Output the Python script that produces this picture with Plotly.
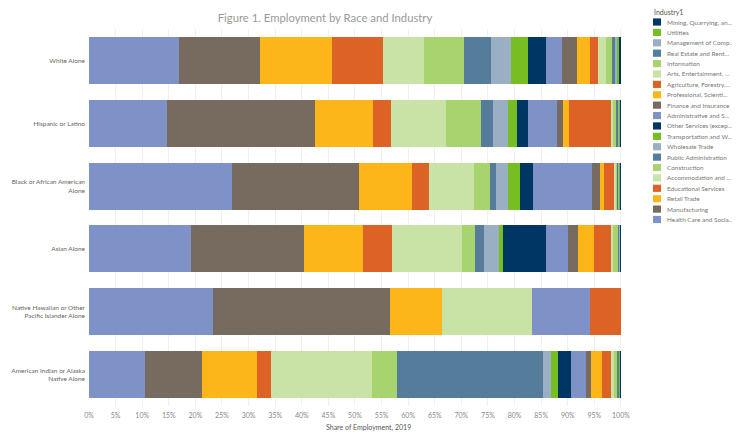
import plotly.graph_objects as go

# ---------------- data ----------------
races = [
    "White Alone",
    "Hispanic or Latino",
    "Black or African American<br>Alone",
    "Asian Alone",
    "Native Hawaiian or Other<br>Pacific Islander Alone",
    "American Indian or Alaska<br>Native Alone",
]

# stack order (left to right)
industries = [
    "Health Care and Social Assistance",
    "Manufacturing",
    "Retail Trade",
    "Educational Services",
    "Accommodation and Food Services",
    "Construction",
    "Public Administration",
    "Wholesale Trade",
    "Transportation and Warehousing",
    "Other Services (except Public Administration)",
    "Administrative and Support Services",
    "Finance and Insurance",
    "Professional, Scientific, and Technical Services",
    "Agriculture, Forestry, Fishing and Hunting",
    "Arts, Entertainment, and Recreation",
    "Information",
    "Real Estate and Rental and Leasing",
    "Management of Companies and Enterprises",
    "Utilities",
    "Mining, Quarrying, and Oil and Gas Extraction",
]

legend_labels = [
    "Health Care and Socia...",
    "Manufacturing",
    "Retail Trade",
    "Educational Services",
    "Accommodation and ...",
    "Construction",
    "Public Administration",
    "Wholesale Trade",
    "Transportation and W...",
    "Other Services (excep...",
    "Administrative and S...",
    "Finance and Insurance",
    "Professional, Scienti...",
    "Agriculture, Forestry,...",
    "Arts, Entertainment, ...",
    "Information",
    "Real Estate and Rent...",
    "Management of Comp...",
    "Utilities",
    "Mining, Quarrying, an...",
]

colors = [
    "#7f92c8", "#776b5f", "#fcb61a", "#dc6325", "#c9e3a7",
    "#a7d46f", "#567c9b", "#9aafc4", "#76be21", "#003663",
    "#7f92c8", "#776b5f", "#fcb61a", "#dc6325", "#c9e3a7",
    "#a7d46f", "#567c9b", "#9aafc4", "#76be21", "#003663",
]

# shares of employment (%), same order as industries
white = [17.0, 15.2, 13.4, 9.6, 7.8, 7.5, 5.0, 3.8, 3.3, 3.3,
         3.1, 2.7, 2.4, 1.6, 1.4, 1.2, 0.5, 0.5, 0.4, 0.3]
hispanic = [14.6, 27.9, 10.8, 3.5, 10.3, 6.6, 2.2, 2.8, 1.7, 2.2,
            5.3, 1.2, 1.2, 7.9, 0.4, 0.4, 0.5, 0.2, 0.15, 0.15]
black = [26.8, 24.0, 10.0, 3.2, 8.4, 3.0, 1.1, 2.3, 2.2, 2.4,
         11.2, 1.4, 0.9, 1.8, 0.3, 0.4, 0.2, 0.2, 0.1, 0.1]
asian = [19.1, 21.4, 11.1, 5.4, 13.1, 2.4, 1.7, 2.9, 0.8, 8.0,
         4.2, 1.9, 3.0, 3.1, 0.4, 1.0, 0.3, 0.1, 0.05, 0.05]
nhpi = [23.4, 33.1, 9.9, 0.0, 16.8, 0.0, 0.0, 0.0, 0.0, 0.0,
        11.0, 0.0, 0.0, 5.8, 0.0, 0.0, 0.0, 0.0, 0.0, 0.0]
aian = [10.6, 10.7, 10.3, 2.6, 19.0, 4.7, 27.4, 1.5, 1.4, 2.5,
        2.8, 0.9, 2.0, 1.8, 0.5, 0.7, 0.3, 0.1, 0.1, 0.1]

shares = [white, hispanic, black, asian, nhpi, aian]

x_ticks = list(range(0, 101, 5))
x_tick_text = [f"{v}%" for v in x_ticks]

# ---------------- figure ----------------
# the page body has an 8px margin, so the figure is drawn 8px in from the
# top-left corner of the window; work in window pixels and convert.
OX, OY = 8, 8
WIN_W, WIN_H = 740, 438
W, H = WIN_W - OX, WIN_H - OY
PL, PR, PT, PB = 89, 622, 28.5, 406.5   # plot area in window pixels
L, R, T, B = PL - OX, WIN_W - PR, PT - OY, WIN_H - PB
FONT = "Lato, 'Open Sans', sans-serif"

fig = go.Figure()
for i, ind in enumerate(industries):
    fig.add_trace(go.Bar(
        y=races,
        x=[row[i] for row in shares],
        orientation="h",
        name=ind,
        marker=dict(color=colors[i], line=dict(width=0)),
        showlegend=False,
        hovertemplate="%{y}<br>" + ind + ": %{x:.1f}%<extra></extra>",
    ))


def px_x(px):
    return (px - PL) / (PR - PL)


def px_y(py):
    return (PB - py) / (PB - PT)


shapes = []
annotations = []

# compact legend (mining on top, health care at bottom)
leg_order = list(range(len(industries)))[::-1]
annotations.append(dict(
    text="Industry1", x=px_x(652), y=px_y(11), xref="paper", yref="paper",
    xanchor="left", yanchor="middle", showarrow=False,
    font=dict(size=7, color="#555", family=FONT)))
for k, idx in enumerate(leg_order):
    cy = 21.5 + 10.42 * k
    shapes.append(dict(
        type="rect", xref="paper", yref="paper",
        x0=px_x(653), x1=px_x(661), y0=px_y(cy + 3.6), y1=px_y(cy - 3.6),
        fillcolor=colors[idx], line=dict(width=0)))
    annotations.append(dict(
        text=legend_labels[idx], x=px_x(664.5), y=px_y(cy), xref="paper", yref="paper",
        xanchor="left", yanchor="middle", showarrow=False,
        font=dict(size=6.4, color="#777", family=FONT)))

annotations.append(dict(
    text="Share of Employment, 2019", x=px_x(368), y=px_y(428),
    xref="paper", yref="paper", xanchor="center", yanchor="middle",
    showarrow=False, font=dict(size=7, color="#555", family=FONT)))

fig.update_layout(
    width=W, height=H,
    margin=dict(l=L, r=R, t=T, b=B, pad=0, autoexpand=False),
    paper_bgcolor="white", plot_bgcolor="white",
    barmode="stack", bargap=0.25,
    font=dict(family=FONT, color="#666"),
    title=dict(text="Figure 1. Employment by Race and Industry",
               x=(325 - OX) / W, xanchor="center", y=1 - (18 - OY) / H,
               yanchor="middle",
               font=dict(size=11.3, color="#999", family=FONT)),
    xaxis=dict(range=[0, 100.2], tickvals=x_ticks, ticktext=x_tick_text,
               showgrid=True, gridcolor="#f0f0f0", gridwidth=1,
               zeroline=False, showline=False, ticks="",
               ticklabelstandoff=4,
               tickfont=dict(size=7, color="#888", family=FONT),
               fixedrange=True, automargin=False),
    yaxis=dict(autorange="reversed", showgrid=False, zeroline=False,
               showline=False, ticks="", automargin=False,
               ticklabelstandoff=3,
               tickfont=dict(size=6.5, color="#666", family=FONT)),
    shapes=shapes,
    annotations=annotations,
    showlegend=False,
)

fig.write_html("out.html")
